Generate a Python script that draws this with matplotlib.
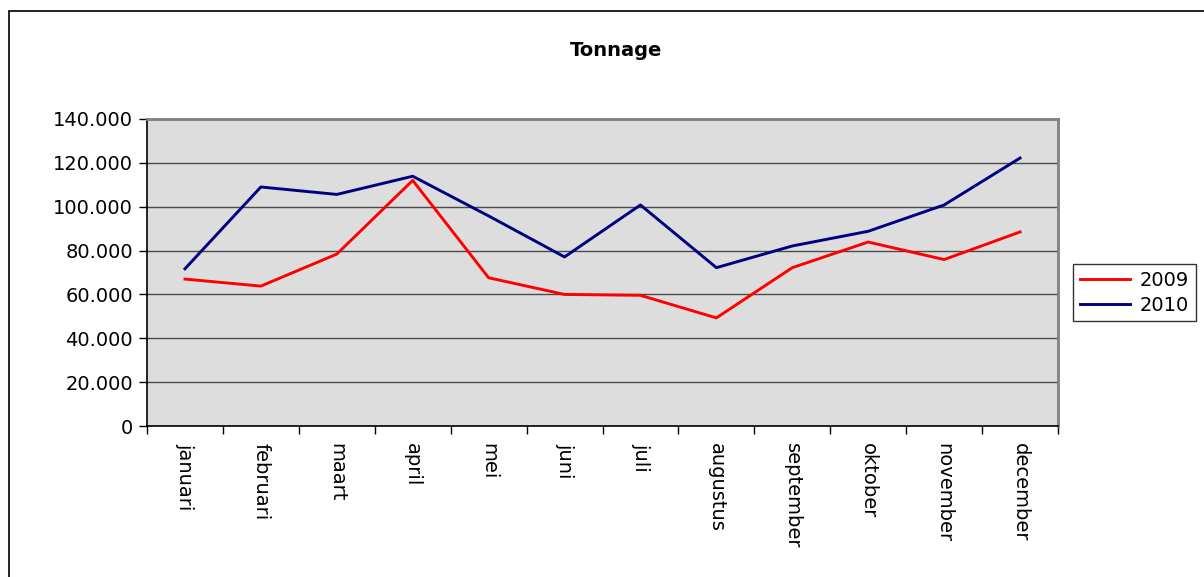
import matplotlib
matplotlib.use('Agg')
import matplotlib.pyplot as plt
from matplotlib.patches import Rectangle
from matplotlib.ticker import FuncFormatter, FixedLocator

# ── Data ──────────────────────────────────────────────────────────────────────
months = ['januari', 'februari', 'maart', 'april', 'mei', 'juni', 'juli',
          'augustus', 'september', 'oktober', 'november', 'december']
tons_2009 = [67000, 63800, 78400, 112000, 67600, 60000, 59600,
             49300, 72200, 83900, 75900, 88500]
tons_2010 = [71700, 109000, 105600, 113900, 95800, 77100, 100800,
             72200, 82100, 88800, 100800, 122200]
y_ticks = [0, 20000, 40000, 60000, 80000, 100000, 120000, 140000]

plt.rcParams['font.family'] = 'DejaVu Sans'

fig = plt.figure(figsize=(12.04, 5.77), dpi=100)

# outer chart border (runs off the right and bottom of the picture)
fig.patches.append(Rectangle((9 / 1204, -0.1), 1.2, 1 - 11 / 577 + 0.1,
                             transform=fig.transFigure, fill=False,
                             edgecolor='black', linewidth=1.2))

ax = fig.add_axes([147 / 1204, 1 - 426 / 577, 911 / 1204, 307 / 577])
ax.set_facecolor('#DDDDDD')

x = list(range(len(months)))
ax.plot(x, tons_2009, color='#FF0000', linewidth=2.1, label='2009')
ax.plot(x, tons_2010, color='#000080', linewidth=2.1, label='2010')

ax.set_xlim(-0.5, len(months) - 0.5)
ax.set_ylim(0, 140000)

# y axis
ax.set_yticks(y_ticks)
ax.yaxis.set_major_formatter(FuncFormatter(lambda v, p: f'{int(v):,}'.replace(',', '.')))
ax.tick_params(axis='y', direction='out', length=6, width=1, labelsize=14, pad=4)
ax.yaxis.grid(True, color='#4a4a4a', linewidth=1)
ax.set_axisbelow(True)

# x axis: ticks at category boundaries, labels at centers
ax.xaxis.set_major_locator(FixedLocator([i - 0.5 for i in range(len(months) + 1)]))
ax.xaxis.set_minor_locator(FixedLocator(x))
ax.set_xticklabels([], minor=False)
ax.set_xticks(x, minor=True)
ax.set_xticklabels(months, minor=True, rotation=270, fontsize=14)
ax.tick_params(axis='x', which='major', direction='out', length=6, width=1)
ax.tick_params(axis='x', which='minor', length=0, pad=12)

for side in ['left', 'bottom']:
    ax.spines[side].set_color('black')
    ax.spines[side].set_linewidth(1.2)
for side in ['top', 'right']:
    ax.spines[side].set_color('#808080')
    ax.spines[side].set_linewidth(2)

fig.text(616 / 1204, 1 - 50 / 577, 'Tonnage', ha='center', va='center',
         fontsize=14, fontweight='bold')

leg = ax.legend(loc='upper left', bbox_to_anchor=(1073 / 1204, 1 - 264 / 577),
                bbox_transform=fig.transFigure, fontsize=14, frameon=True,
                fancybox=False, edgecolor='black', handlelength=2.6,
                borderpad=0.35, labelspacing=0.3, handletextpad=0.5,
                borderaxespad=0)
leg.get_frame().set_linewidth(1)

fig.savefig('out.png', dpi=100)
